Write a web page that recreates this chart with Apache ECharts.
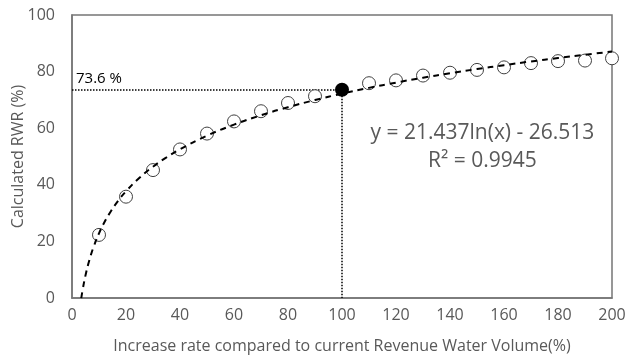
<!DOCTYPE html>
<html>
<head>
<meta charset="utf-8">
<script src="https://cdn.jsdelivr.net/npm/echarts@6/dist/echarts.min.js"></script>
<style>
  html, body { margin: 0; padding: 0; background: #fff; }
  #main { width: 625px; height: 360px; }
</style>
</head>
<body>
<div id="main"></div>
<script>
// measured points (increase rate %, calculated RWR %)
var rates = [10, 20, 30, 40, 50, 60, 70, 80, 90, 110, 120, 130, 140, 150, 160, 170, 180, 190, 200];
var rwr = [22.3, 35.8, 45.2, 52.5, 58.1, 62.4, 66.0, 68.9, 71.3, 75.9, 76.9, 78.6, 79.6, 80.6, 81.5, 83.0, 83.7, 83.9, 84.7];

// highlighted point at current volume
var focusRate = 100;
var focusRwr = 73.6;
var focusLabel = '73.6 %';

// log trendline as printed on the chart
var trendA = 21.437;
var trendB = -26.513;
var trendText = 'y = 21.437ln(x) - 26.513';
var r2Text = 'R\u00b2 = 0.9945';
var trendXs = [3.44, 4, 5, 6, 7, 8, 10, 12, 14, 17, 20, 25, 30, 35, 40, 50, 60, 70, 80, 90, 100,
  110, 120, 130, 140, 150, 160, 170, 180, 190, 200];

var xTicks = [0, 20, 40, 60, 80, 100, 120, 140, 160, 180, 200];
var yTicks = [0, 20, 40, 60, 80, 100];

var FONT = '"Open Sans", sans-serif';
var GREY = '#595959';

var trendData = trendXs.map(function(x) {
    return [x, trendA * Math.log(x) + trendB];
});
var pointData = rates.map(function(r, i) {
    return [r, rwr[i]];
});

var myChart = echarts.init(document.getElementById('main'));

var option = {
    animation: false,
    grid: {
        left: 72,
        right: 13,
        top: 15,
        bottom: 62,
        outerBoundsMode: 'none',
        containLabel: false,
        show: true,
        borderColor: '#767676',
        borderWidth: 1.5
    },
    xAxis: {
        type: 'value',
        min: xTicks[0],
        max: xTicks[xTicks.length - 1],
        interval: 20,
        name: 'Increase rate compared to current Revenue Water Volume(%)',
        nameLocation: 'middle',
        nameGap: 40,
        nameMoveOverlap: false,
        nameTextStyle: { color: GREY, fontFamily: FONT, fontSize: 16 },
        axisLine: { lineStyle: { color: '#767676', width: 1.5 } },
        axisTick: { show: false },
        splitLine: { show: false },
        axisLabel: { color: GREY, fontFamily: FONT, fontSize: 16, margin: 9 }
    },
    yAxis: {
        type: 'value',
        min: yTicks[0],
        max: yTicks[yTicks.length - 1],
        interval: 20,
        name: 'Calculated RWR (%)',
        nameLocation: 'middle',
        nameGap: 46,
        nameMoveOverlap: false,
        nameTextStyle: { color: GREY, fontFamily: FONT, fontSize: 16 },
        axisLine: { show: true, lineStyle: { color: '#767676', width: 1.5 } },
        axisTick: { show: false },
        splitLine: { show: false },
        axisLabel: { color: GREY, fontFamily: FONT, fontSize: 16, margin: 17 }
    },
    series: [
        {
            name: 'measured',
            type: 'scatter',
            symbol: 'circle',
            symbolSize: 13,
            z: 2,
            itemStyle: { color: '#fff', borderColor: '#404040', borderWidth: 1, opacity: 1 },
            data: pointData
        },
        {
            name: 'trend',
            type: 'line',
            showSymbol: false,
            smooth: true,
            z: 3,
            lineStyle: { color: '#000', width: 2, type: [6, 5] },
            data: trendData
        },
        {
            name: 'focus',
            type: 'scatter',
            symbolSize: 14,
            z: 4,
            itemStyle: { color: '#000', opacity: 1 },
            data: [[focusRate, focusRwr]],
            markLine: {
                silent: true,
                symbol: 'none',
                z: 1,
                lineStyle: { color: '#000', width: 1.5, type: 'dotted' },
                data: [
                    [
                        { coord: [xTicks[0], focusRwr], label: {
                            show: true, formatter: focusLabel, position: 'insideStartTop',
                            color: '#000', fontFamily: FONT, fontSize: 15, distance: [4, 3] } },
                        { coord: [focusRate, focusRwr] }
                    ],
                    [
                        { coord: [focusRate, focusRwr], label: { show: false } },
                        { coord: [focusRate, yTicks[0]] }
                    ]
                ]
            }
        }
    ]
};

myChart.setOption(option);

// equation text, positioned in data space
var eqPos = myChart.convertToPixel({ gridIndex: 0 }, [152, 58.3]);
var r2Pos = myChart.convertToPixel({ gridIndex: 0 }, [152, 48.5]);
myChart.setOption({
    graphic: [
        {
            type: 'text', x: eqPos[0], y: eqPos[1],
            style: { text: trendText, fill: GREY, font: '21px ' + FONT, align: 'center', verticalAlign: 'middle' }
        },
        {
            type: 'text', x: r2Pos[0], y: r2Pos[1],
            style: { text: r2Text, fill: GREY, font: '21px ' + FONT, align: 'center', verticalAlign: 'middle' }
        }
    ]
});
</script>
</body>
</html>
